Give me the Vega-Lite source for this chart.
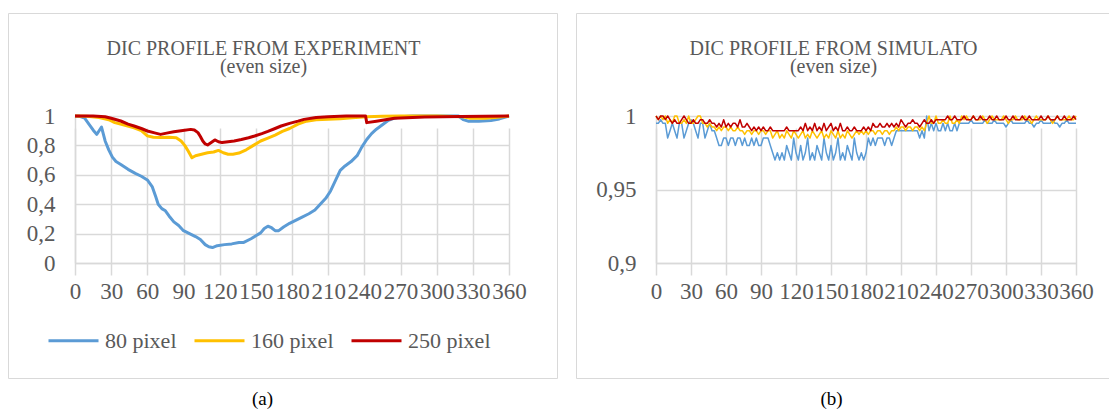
{
"$schema": "https://vega.github.io/schema/vega-lite/v6.json",
"background": "white",
"padding": {"left": 7, "top": 12, "right": 0, "bottom": 0},
"spacing": 17,
"config": {
  "font": "Times New Roman, Liberation Serif, serif",
  "view": {"stroke": "#d9d9d9", "strokeWidth": 1},
  "axis": {"domainColor": "#d9d9d9", "gridColor": "#d9d9d9", "gridWidth": 1.5, "domainWidth": 1.5, "ticks": false, "labelColor": "#595959", "labelFontSize": 23, "labelFont": "Times New Roman, Liberation Serif, serif"},
  "line": {"strokeJoin": "round"}
},
"datasets": {
  "a80": [{"x":0,"y":1.0},{"x":4,"y":0.998},{"x":8,"y":0.985},{"x":12,"y":0.94},{"x":15,"y":0.905},{"x":18,"y":0.875},{"x":20,"y":0.9},{"x":22,"y":0.925},{"x":25,"y":0.83},{"x":28,"y":0.77},{"x":31,"y":0.72},{"x":34,"y":0.69},{"x":38,"y":0.67},{"x":44,"y":0.637},{"x":50,"y":0.61},{"x":55,"y":0.59},{"x":60,"y":0.565},{"x":64,"y":0.52},{"x":67,"y":0.45},{"x":69,"y":0.4},{"x":72,"y":0.37},{"x":75,"y":0.355},{"x":78,"y":0.32},{"x":82,"y":0.28},{"x":86,"y":0.255},{"x":90,"y":0.22},{"x":95,"y":0.2},{"x":100,"y":0.18},{"x":104,"y":0.16},{"x":108,"y":0.125},{"x":111,"y":0.11},{"x":114,"y":0.105},{"x":118,"y":0.118},{"x":124,"y":0.125},{"x":130,"y":0.13},{"x":136,"y":0.14},{"x":140,"y":0.14},{"x":146,"y":0.165},{"x":150,"y":0.185},{"x":154,"y":0.205},{"x":157,"y":0.235},{"x":160,"y":0.25},{"x":163,"y":0.24},{"x":166,"y":0.22},{"x":169,"y":0.22},{"x":173,"y":0.245},{"x":178,"y":0.27},{"x":183,"y":0.29},{"x":188,"y":0.31},{"x":194,"y":0.335},{"x":199,"y":0.36},{"x":204,"y":0.405},{"x":208,"y":0.44},{"x":212,"y":0.49},{"x":216,"y":0.56},{"x":220,"y":0.63},{"x":224,"y":0.66},{"x":229,"y":0.69},{"x":234,"y":0.73},{"x":238,"y":0.79},{"x":242,"y":0.84},{"x":246,"y":0.88},{"x":250,"y":0.91},{"x":255,"y":0.94},{"x":260,"y":0.97},{"x":265,"y":0.985},{"x":270,"y":0.995},{"x":280,"y":1.0},{"x":300,"y":1.0},{"x":318,"y":1.0},{"x":322,"y":0.975},{"x":326,"y":0.965},{"x":335,"y":0.965},{"x":345,"y":0.97},{"x":352,"y":0.98},{"x":360,"y":1.0}],
  "a160": [{"x":0,"y":1.0},{"x":10,"y":0.998},{"x":20,"y":0.99},{"x":28,"y":0.975},{"x":33,"y":0.955},{"x":40,"y":0.94},{"x":49,"y":0.92},{"x":55,"y":0.9},{"x":60,"y":0.865},{"x":65,"y":0.855},{"x":71,"y":0.853},{"x":78,"y":0.855},{"x":84,"y":0.852},{"x":88,"y":0.83},{"x":91,"y":0.8},{"x":94,"y":0.76},{"x":97,"y":0.716},{"x":100,"y":0.73},{"x":105,"y":0.74},{"x":110,"y":0.75},{"x":115,"y":0.755},{"x":119,"y":0.766},{"x":123,"y":0.75},{"x":127,"y":0.74},{"x":131,"y":0.74},{"x":136,"y":0.748},{"x":142,"y":0.77},{"x":148,"y":0.8},{"x":154,"y":0.83},{"x":160,"y":0.85},{"x":166,"y":0.87},{"x":172,"y":0.895},{"x":178,"y":0.915},{"x":185,"y":0.945},{"x":192,"y":0.965},{"x":200,"y":0.975},{"x":210,"y":0.978},{"x":220,"y":0.982},{"x":230,"y":0.988},{"x":242,"y":0.995},{"x":255,"y":0.998},{"x":270,"y":1.0},{"x":300,"y":1.0},{"x":322,"y":0.995},{"x":328,"y":0.985},{"x":340,"y":0.985},{"x":348,"y":0.99},{"x":360,"y":1.0}],
  "a250": [{"x":0,"y":1.0},{"x":15,"y":1.0},{"x":25,"y":0.995},{"x":30,"y":0.985},{"x":38,"y":0.966},{"x":44,"y":0.945},{"x":49,"y":0.932},{"x":55,"y":0.915},{"x":60,"y":0.898},{"x":66,"y":0.885},{"x":71,"y":0.875},{"x":77,"y":0.885},{"x":82,"y":0.893},{"x":88,"y":0.9},{"x":96,"y":0.909},{"x":99,"y":0.905},{"x":102,"y":0.887},{"x":104,"y":0.86},{"x":106,"y":0.83},{"x":108,"y":0.81},{"x":110,"y":0.803},{"x":113,"y":0.82},{"x":116,"y":0.837},{"x":119,"y":0.825},{"x":122,"y":0.819},{"x":127,"y":0.825},{"x":132,"y":0.83},{"x":138,"y":0.84},{"x":144,"y":0.852},{"x":149,"y":0.864},{"x":155,"y":0.88},{"x":160,"y":0.895},{"x":166,"y":0.915},{"x":171,"y":0.932},{"x":178,"y":0.95},{"x":185,"y":0.965},{"x":190,"y":0.977},{"x":200,"y":0.99},{"x":210,"y":0.995},{"x":225,"y":1.0},{"x":241,"y":1.0},{"x":242,"y":0.955},{"x":250,"y":0.965},{"x":265,"y":0.984},{"x":290,"y":0.993},{"x":320,"y":0.996},{"x":360,"y":1.0}],
  "b80": [{"x":0,"y":0.995},{"x":2,"y":0.995},{"x":4,"y":0.9975},{"x":6,"y":0.995},{"x":8,"y":0.995},{"x":10,"y":0.985},{"x":12,"y":0.99},{"x":14,"y":0.995},{"x":16,"y":0.99},{"x":18,"y":0.985},{"x":20,"y":0.995},{"x":22,"y":0.995},{"x":24,"y":0.985},{"x":26,"y":0.99},{"x":28,"y":0.995},{"x":30,"y":0.9975},{"x":32,"y":0.995},{"x":34,"y":0.99},{"x":36,"y":0.985},{"x":38,"y":0.995},{"x":40,"y":0.995},{"x":42,"y":0.985},{"x":44,"y":0.99},{"x":46,"y":0.995},{"x":48,"y":0.99},{"x":50,"y":0.99},{"x":52,"y":0.985},{"x":54,"y":0.98},{"x":56,"y":0.98},{"x":58,"y":0.985},{"x":60,"y":0.985},{"x":62,"y":0.98},{"x":64,"y":0.985},{"x":66,"y":0.985},{"x":68,"y":0.98},{"x":70,"y":0.985},{"x":72,"y":0.985},{"x":74,"y":0.98},{"x":76,"y":0.985},{"x":78,"y":0.98},{"x":80,"y":0.98},{"x":82,"y":0.985},{"x":84,"y":0.98},{"x":86,"y":0.985},{"x":88,"y":0.98},{"x":90,"y":0.98},{"x":92,"y":0.985},{"x":94,"y":0.985},{"x":96,"y":0.985},{"x":98,"y":0.98},{"x":100,"y":0.975},{"x":102,"y":0.97},{"x":104,"y":0.975},{"x":106,"y":0.97},{"x":108,"y":0.975},{"x":110,"y":0.97},{"x":112,"y":0.98},{"x":114,"y":0.975},{"x":116,"y":0.97},{"x":118,"y":0.985},{"x":120,"y":0.975},{"x":122,"y":0.97},{"x":124,"y":0.98},{"x":126,"y":0.97},{"x":128,"y":0.975},{"x":130,"y":0.985},{"x":132,"y":0.97},{"x":134,"y":0.975},{"x":136,"y":0.97},{"x":138,"y":0.98},{"x":140,"y":0.975},{"x":142,"y":0.97},{"x":144,"y":0.985},{"x":146,"y":0.975},{"x":148,"y":0.97},{"x":150,"y":0.98},{"x":152,"y":0.97},{"x":154,"y":0.975},{"x":156,"y":0.985},{"x":158,"y":0.97},{"x":160,"y":0.975},{"x":162,"y":0.97},{"x":164,"y":0.98},{"x":166,"y":0.975},{"x":168,"y":0.97},{"x":170,"y":0.985},{"x":172,"y":0.975},{"x":174,"y":0.97},{"x":176,"y":0.975},{"x":178,"y":0.97},{"x":180,"y":0.975},{"x":182,"y":0.985},{"x":184,"y":0.98},{"x":186,"y":0.985},{"x":188,"y":0.98},{"x":190,"y":0.985},{"x":192,"y":0.985},{"x":194,"y":0.985},{"x":196,"y":0.98},{"x":198,"y":0.985},{"x":200,"y":0.985},{"x":202,"y":0.98},{"x":204,"y":0.985},{"x":206,"y":0.99},{"x":208,"y":0.99},{"x":210,"y":0.99},{"x":212,"y":0.99},{"x":214,"y":0.99},{"x":216,"y":0.99},{"x":218,"y":0.99},{"x":220,"y":0.99},{"x":222,"y":0.99},{"x":224,"y":0.99},{"x":226,"y":0.985},{"x":228,"y":0.99},{"x":230,"y":0.985},{"x":232,"y":1.0},{"x":234,"y":0.99},{"x":236,"y":0.995},{"x":238,"y":0.99},{"x":240,"y":0.995},{"x":242,"y":0.99},{"x":244,"y":0.99},{"x":246,"y":0.995},{"x":248,"y":0.99},{"x":250,"y":0.995},{"x":252,"y":0.99},{"x":254,"y":0.99},{"x":256,"y":0.995},{"x":258,"y":0.99},{"x":260,"y":0.995},{"x":262,"y":0.995},{"x":264,"y":0.995},{"x":266,"y":0.995},{"x":268,"y":0.995},{"x":270,"y":0.9975},{"x":272,"y":0.995},{"x":274,"y":0.995},{"x":276,"y":0.995},{"x":278,"y":0.995},{"x":280,"y":0.995},{"x":282,"y":0.9975},{"x":284,"y":0.995},{"x":286,"y":0.995},{"x":288,"y":0.995},{"x":290,"y":0.9975},{"x":292,"y":0.995},{"x":294,"y":0.995},{"x":296,"y":0.995},{"x":298,"y":0.995},{"x":300,"y":0.9925},{"x":302,"y":0.995},{"x":304,"y":0.9975},{"x":306,"y":0.995},{"x":308,"y":0.995},{"x":310,"y":0.995},{"x":312,"y":0.995},{"x":314,"y":0.995},{"x":316,"y":0.995},{"x":318,"y":0.9975},{"x":320,"y":0.995},{"x":322,"y":0.995},{"x":324,"y":0.9925},{"x":326,"y":0.995},{"x":328,"y":0.995},{"x":330,"y":0.9975},{"x":332,"y":0.995},{"x":334,"y":0.995},{"x":336,"y":0.995},{"x":338,"y":0.995},{"x":340,"y":0.9975},{"x":342,"y":0.995},{"x":344,"y":0.995},{"x":346,"y":0.9925},{"x":348,"y":0.995},{"x":350,"y":0.995},{"x":352,"y":0.9975},{"x":354,"y":0.995},{"x":356,"y":0.995},{"x":358,"y":0.995},{"x":360,"y":0.995}],
  "b160": [{"x":0,"y":1.0},{"x":2,"y":0.9975},{"x":4,"y":1.0},{"x":6,"y":0.9975},{"x":8,"y":1.0},{"x":10,"y":0.995},{"x":12,"y":0.9975},{"x":14,"y":0.995},{"x":16,"y":1.0},{"x":18,"y":1.0},{"x":20,"y":0.995},{"x":22,"y":0.995},{"x":24,"y":0.9975},{"x":26,"y":0.995},{"x":28,"y":1.0},{"x":30,"y":0.995},{"x":32,"y":0.995},{"x":34,"y":0.9975},{"x":36,"y":1.0},{"x":38,"y":1.0},{"x":40,"y":0.995},{"x":42,"y":0.995},{"x":44,"y":0.9925},{"x":46,"y":0.995},{"x":48,"y":0.9925},{"x":50,"y":0.9925},{"x":52,"y":0.99},{"x":54,"y":0.9925},{"x":56,"y":0.99},{"x":58,"y":0.9925},{"x":60,"y":0.9925},{"x":62,"y":0.99},{"x":64,"y":0.9925},{"x":66,"y":0.99},{"x":68,"y":0.99},{"x":70,"y":0.9925},{"x":72,"y":0.99},{"x":74,"y":0.99},{"x":76,"y":0.9875},{"x":78,"y":0.99},{"x":80,"y":0.99},{"x":82,"y":0.9875},{"x":84,"y":0.99},{"x":86,"y":0.99},{"x":88,"y":0.9875},{"x":90,"y":0.99},{"x":92,"y":0.99},{"x":94,"y":0.9875},{"x":96,"y":0.99},{"x":98,"y":0.99},{"x":100,"y":0.985},{"x":102,"y":0.9875},{"x":104,"y":0.99},{"x":106,"y":0.985},{"x":108,"y":0.9875},{"x":110,"y":0.985},{"x":112,"y":0.99},{"x":114,"y":0.9875},{"x":116,"y":0.985},{"x":118,"y":0.99},{"x":120,"y":0.9875},{"x":122,"y":0.985},{"x":124,"y":0.9875},{"x":126,"y":0.99},{"x":128,"y":0.985},{"x":130,"y":0.9875},{"x":132,"y":0.985},{"x":134,"y":0.99},{"x":136,"y":0.9875},{"x":138,"y":0.985},{"x":140,"y":0.9875},{"x":142,"y":0.99},{"x":144,"y":0.985},{"x":146,"y":0.9875},{"x":148,"y":0.985},{"x":150,"y":0.99},{"x":152,"y":0.9875},{"x":154,"y":0.985},{"x":156,"y":0.99},{"x":158,"y":0.985},{"x":160,"y":0.9875},{"x":162,"y":0.985},{"x":164,"y":0.99},{"x":166,"y":0.9875},{"x":168,"y":0.985},{"x":170,"y":0.9875},{"x":172,"y":0.99},{"x":174,"y":0.9875},{"x":176,"y":0.99},{"x":178,"y":0.9875},{"x":180,"y":0.99},{"x":182,"y":0.9875},{"x":184,"y":0.99},{"x":186,"y":0.99},{"x":188,"y":0.9875},{"x":190,"y":0.99},{"x":192,"y":0.99},{"x":194,"y":0.9875},{"x":196,"y":0.99},{"x":198,"y":0.99},{"x":200,"y":0.9875},{"x":202,"y":0.99},{"x":204,"y":0.99},{"x":206,"y":0.9925},{"x":208,"y":0.99},{"x":210,"y":0.9925},{"x":212,"y":0.9925},{"x":214,"y":0.99},{"x":216,"y":0.9925},{"x":218,"y":0.9925},{"x":220,"y":0.99},{"x":222,"y":0.9925},{"x":224,"y":0.9925},{"x":226,"y":0.99},{"x":228,"y":0.9925},{"x":230,"y":0.99},{"x":232,"y":0.995},{"x":234,"y":1.0},{"x":236,"y":0.995},{"x":238,"y":0.995},{"x":240,"y":1.0},{"x":242,"y":0.995},{"x":244,"y":0.995},{"x":246,"y":0.9975},{"x":248,"y":0.995},{"x":250,"y":0.995},{"x":252,"y":1.0},{"x":254,"y":0.995},{"x":256,"y":0.995},{"x":258,"y":0.9975},{"x":260,"y":0.995},{"x":262,"y":1.0},{"x":264,"y":0.9975},{"x":266,"y":1.0},{"x":268,"y":0.9975},{"x":270,"y":0.9975},{"x":272,"y":1.0},{"x":274,"y":0.9975},{"x":276,"y":0.9975},{"x":278,"y":0.9975},{"x":280,"y":1.0},{"x":282,"y":0.9975},{"x":284,"y":0.995},{"x":286,"y":0.9975},{"x":288,"y":1.0},{"x":290,"y":0.9975},{"x":292,"y":0.9975},{"x":294,"y":0.9975},{"x":296,"y":0.9975},{"x":298,"y":1.0},{"x":300,"y":0.9975},{"x":302,"y":0.995},{"x":304,"y":0.9975},{"x":306,"y":0.9975},{"x":308,"y":1.0},{"x":310,"y":0.9975},{"x":312,"y":0.9975},{"x":314,"y":0.9975},{"x":316,"y":1.0},{"x":318,"y":0.9975},{"x":320,"y":0.9975},{"x":322,"y":0.995},{"x":324,"y":0.9975},{"x":326,"y":1.0},{"x":328,"y":0.9975},{"x":330,"y":0.9975},{"x":332,"y":0.9975},{"x":334,"y":0.9975},{"x":336,"y":1.0},{"x":338,"y":0.9975},{"x":340,"y":0.995},{"x":342,"y":0.9975},{"x":344,"y":1.0},{"x":346,"y":0.9975},{"x":348,"y":0.9975},{"x":350,"y":0.9975},{"x":352,"y":0.9975},{"x":354,"y":1.0},{"x":356,"y":0.9975},{"x":358,"y":0.9975},{"x":360,"y":1.0}],
  "b250": [{"x":0,"y":1.0},{"x":2,"y":0.9975},{"x":4,"y":1.0},{"x":6,"y":1.0},{"x":8,"y":0.9975},{"x":10,"y":1.0},{"x":12,"y":0.9975},{"x":14,"y":0.995},{"x":16,"y":0.9975},{"x":18,"y":0.995},{"x":20,"y":0.995},{"x":22,"y":0.9975},{"x":24,"y":1.0},{"x":26,"y":0.9975},{"x":28,"y":0.995},{"x":30,"y":0.995},{"x":32,"y":0.9975},{"x":34,"y":0.995},{"x":36,"y":0.995},{"x":38,"y":0.9975},{"x":40,"y":0.9975},{"x":42,"y":0.995},{"x":44,"y":0.995},{"x":46,"y":0.9975},{"x":48,"y":0.995},{"x":50,"y":0.995},{"x":52,"y":0.9925},{"x":54,"y":0.995},{"x":56,"y":0.9925},{"x":58,"y":0.9975},{"x":60,"y":0.9925},{"x":62,"y":0.995},{"x":64,"y":0.9925},{"x":66,"y":0.995},{"x":68,"y":0.995},{"x":70,"y":0.9925},{"x":72,"y":0.9975},{"x":74,"y":0.9925},{"x":76,"y":0.9925},{"x":78,"y":0.995},{"x":80,"y":0.9925},{"x":82,"y":0.99},{"x":84,"y":0.9925},{"x":86,"y":0.99},{"x":88,"y":0.9925},{"x":90,"y":0.99},{"x":92,"y":0.9925},{"x":94,"y":0.99},{"x":96,"y":0.99},{"x":98,"y":0.9925},{"x":100,"y":0.99},{"x":102,"y":0.99},{"x":104,"y":0.99},{"x":106,"y":0.99},{"x":108,"y":0.99},{"x":110,"y":0.99},{"x":112,"y":0.9925},{"x":114,"y":0.99},{"x":116,"y":0.99},{"x":118,"y":0.99},{"x":120,"y":0.99},{"x":122,"y":0.99},{"x":124,"y":0.9925},{"x":126,"y":0.99},{"x":128,"y":0.995},{"x":130,"y":0.99},{"x":132,"y":0.9925},{"x":134,"y":0.99},{"x":136,"y":0.995},{"x":138,"y":0.99},{"x":140,"y":0.9925},{"x":142,"y":0.99},{"x":144,"y":0.995},{"x":146,"y":0.99},{"x":148,"y":0.9925},{"x":150,"y":0.995},{"x":152,"y":0.99},{"x":154,"y":0.9925},{"x":156,"y":0.99},{"x":158,"y":0.995},{"x":160,"y":0.99},{"x":162,"y":0.99},{"x":164,"y":0.9925},{"x":166,"y":0.99},{"x":168,"y":0.99},{"x":170,"y":0.9925},{"x":172,"y":0.99},{"x":174,"y":0.99},{"x":176,"y":0.99},{"x":178,"y":0.9925},{"x":180,"y":0.99},{"x":182,"y":0.9925},{"x":184,"y":0.99},{"x":186,"y":0.995},{"x":188,"y":0.9925},{"x":190,"y":0.9925},{"x":192,"y":0.995},{"x":194,"y":0.9925},{"x":196,"y":0.9925},{"x":198,"y":0.995},{"x":200,"y":0.9925},{"x":202,"y":0.995},{"x":204,"y":0.9925},{"x":206,"y":0.995},{"x":208,"y":0.9925},{"x":210,"y":0.9975},{"x":212,"y":0.995},{"x":214,"y":0.9925},{"x":216,"y":0.995},{"x":218,"y":0.995},{"x":220,"y":0.9975},{"x":222,"y":0.995},{"x":224,"y":0.995},{"x":226,"y":0.9925},{"x":228,"y":0.995},{"x":230,"y":0.9975},{"x":232,"y":0.995},{"x":234,"y":0.995},{"x":236,"y":0.9975},{"x":238,"y":0.995},{"x":240,"y":0.9975},{"x":242,"y":0.9975},{"x":244,"y":0.9975},{"x":246,"y":0.9975},{"x":248,"y":0.9975},{"x":250,"y":1.0},{"x":252,"y":0.9975},{"x":254,"y":0.9975},{"x":256,"y":1.0},{"x":258,"y":0.9975},{"x":260,"y":0.9975},{"x":262,"y":0.9975},{"x":264,"y":1.0},{"x":266,"y":0.9975},{"x":268,"y":0.9975},{"x":270,"y":0.9975},{"x":272,"y":1.0},{"x":274,"y":0.9975},{"x":276,"y":0.9975},{"x":278,"y":1.0},{"x":280,"y":0.9975},{"x":282,"y":0.9975},{"x":284,"y":0.9975},{"x":286,"y":1.0},{"x":288,"y":0.9975},{"x":290,"y":0.9975},{"x":292,"y":1.0},{"x":294,"y":0.9975},{"x":296,"y":0.9975},{"x":298,"y":0.9975},{"x":300,"y":1.0},{"x":302,"y":0.9975},{"x":304,"y":0.9975},{"x":306,"y":1.0},{"x":308,"y":0.9975},{"x":310,"y":0.9975},{"x":312,"y":0.9975},{"x":314,"y":1.0},{"x":316,"y":0.9975},{"x":318,"y":0.9975},{"x":320,"y":1.0},{"x":322,"y":0.9975},{"x":324,"y":0.9975},{"x":326,"y":0.9975},{"x":328,"y":0.9975},{"x":330,"y":1.0},{"x":332,"y":0.9975},{"x":334,"y":0.9975},{"x":336,"y":1.0},{"x":338,"y":0.9975},{"x":340,"y":0.9975},{"x":342,"y":0.9975},{"x":344,"y":1.0},{"x":346,"y":0.9975},{"x":348,"y":0.9975},{"x":350,"y":1.0},{"x":352,"y":0.9975},{"x":354,"y":0.9975},{"x":356,"y":0.9975},{"x":358,"y":1.0},{"x":360,"y":0.9975}]
},
"hconcat": [
  {
    "title": {"text": "(a)", "orient": "bottom", "anchor": "middle", "offset": 11, "dx": -20, "fontSize": 19, "color": "black", "fontWeight": "normal", "font": "Times New Roman, Liberation Serif, serif"},
    "vconcat": [
      {
        "width": 549, "height": 365,
        "title": {"text": "DIC PROFILE FROM EXPERIMENT", "subtitle": "(even size)", "anchor": "middle", "offset": -64, "dx": -19, "fontSize": 20, "subtitleFontSize": 20, "color": "#595959", "subtitleColor": "#595959", "font": "Times New Roman, Liberation Serif, serif", "subtitleFont": "Times New Roman, Liberation Serif, serif", "fontWeight": "normal", "subtitlePadding": -2},
        "encoding": {
          "x": {"field": "x", "type": "quantitative", "scale": {"domain": [0, 360], "range": [67, 501], "nice": false, "zero": false}, "axis": {"orient": "bottom", "offset": -115, "values": [0,30,60,90,120,150,180,210,240,270,300,330,360], "grid": true, "labelPadding": 17, "labelOverlap": false, "labelFlush": false, "labelBound": false, "title": null}},
          "y": {"field": "y", "type": "quantitative", "scale": {"domain": [0, 1], "range": [250, 103], "nice": false, "zero": false}, "axis": {"orient": "left", "offset": -67, "values": [0,0.2,0.4,0.6,0.8,1], "grid": true, "labelPadding": 20, "labelExpr": "replace(format(datum.value,'~g'),'.',',')", "title": null}}
        },
        "layer": [
          {"data": {"name": "a80"}, "mark": {"type": "line", "strokeWidth": 3}, "encoding": {"color": {"datum": "80 pixel", "type": "nominal", "scale": {"domain": ["80 pixel","160 pixel","250 pixel"], "range": ["#5b9bd5","#ffc000","#c00000"]}, "legend": {"orient": "none", "legendX": 39, "legendY": 301, "direction": "horizontal", "title": null, "symbolType": "stroke", "symbolSize": 2500, "symbolStrokeWidth": 3, "labelFontSize": 22, "labelColor": "#595959", "labelFont": "Times New Roman, Liberation Serif, serif", "labelOffset": 5, "columnPadding": 16, "labelLimit": 300}}}},
          {"data": {"name": "a160"}, "mark": {"type": "line", "strokeWidth": 3}, "encoding": {"color": {"datum": "160 pixel", "type": "nominal", "scale": {"domain": ["80 pixel","160 pixel","250 pixel"], "range": ["#5b9bd5","#ffc000","#c00000"]}, "legend": {"orient": "none", "legendX": 39, "legendY": 301, "direction": "horizontal", "title": null, "symbolType": "stroke", "symbolSize": 2500, "symbolStrokeWidth": 3, "labelFontSize": 22, "labelColor": "#595959", "labelFont": "Times New Roman, Liberation Serif, serif", "labelOffset": 5, "columnPadding": 16, "labelLimit": 300}}}},
          {"data": {"name": "a250"}, "mark": {"type": "line", "strokeWidth": 3}, "encoding": {"color": {"datum": "250 pixel", "type": "nominal", "scale": {"domain": ["80 pixel","160 pixel","250 pixel"], "range": ["#5b9bd5","#ffc000","#c00000"]}, "legend": {"orient": "none", "legendX": 39, "legendY": 301, "direction": "horizontal", "title": null, "symbolType": "stroke", "symbolSize": 2500, "symbolStrokeWidth": 3, "labelFontSize": 22, "labelColor": "#595959", "labelFont": "Times New Roman, Liberation Serif, serif", "labelOffset": 5, "columnPadding": 16, "labelLimit": 300}}}}
        ]
      }
    ]
  },
  {
    "title": {"text": "(b)", "orient": "bottom", "anchor": "middle", "offset": 11, "dx": -12, "fontSize": 19, "color": "black", "fontWeight": "normal", "font": "Times New Roman, Liberation Serif, serif"},
    "vconcat": [
      {
        "width": 535, "height": 365,
        "title": {"text": "DIC PROFILE FROM SIMULATO", "subtitle": "(even size)", "anchor": "middle", "offset": -64, "dx": -10, "fontSize": 20, "subtitleFontSize": 20, "color": "#595959", "subtitleColor": "#595959", "font": "Times New Roman, Liberation Serif, serif", "subtitleFont": "Times New Roman, Liberation Serif, serif", "fontWeight": "normal", "subtitlePadding": -2},
        "encoding": {
          "x": {"field": "x", "type": "quantitative", "scale": {"domain": [0, 360], "range": [80, 500], "nice": false, "zero": false}, "axis": {"orient": "bottom", "offset": -115, "values": [0,30,60,90,120,150,180,210,240,270,300,330,360], "grid": true, "labelPadding": 17, "labelOverlap": false, "labelFlush": false, "labelBound": false, "title": null}},
          "y": {"field": "y", "type": "quantitative", "scale": {"domain": [0.9, 1], "range": [250, 103], "nice": false, "zero": false}, "axis": {"orient": "left", "offset": -80, "values": [0.9,0.95,1], "grid": true, "labelPadding": 20, "labelExpr": "replace(format(datum.value,'~g'),'.',',')", "title": null}}
        },
        "layer": [
          {"data": {"name": "b80"}, "mark": {"type": "line", "strokeWidth": 1.5}, "encoding": {"color": {"datum": "80 pixel", "type": "nominal", "scale": {"domain": ["80 pixel","160 pixel","250 pixel"], "range": ["#5b9bd5","#ffc000","#c00000"]}, "legend": {"orient": "none", "legendX": 41, "legendY": 299, "direction": "horizontal", "title": null, "symbolType": "stroke", "symbolSize": 2500, "symbolStrokeWidth": 2, "labelFontSize": 22, "labelColor": "#595959", "labelFont": "Times New Roman, Liberation Serif, serif", "labelOffset": 5, "columnPadding": 17, "labelLimit": 300}}}},
          {"data": {"name": "b160"}, "mark": {"type": "line", "strokeWidth": 1.5}, "encoding": {"color": {"datum": "160 pixel", "type": "nominal", "scale": {"domain": ["80 pixel","160 pixel","250 pixel"], "range": ["#5b9bd5","#ffc000","#c00000"]}, "legend": {"orient": "none", "legendX": 41, "legendY": 299, "direction": "horizontal", "title": null, "symbolType": "stroke", "symbolSize": 2500, "symbolStrokeWidth": 2, "labelFontSize": 22, "labelColor": "#595959", "labelFont": "Times New Roman, Liberation Serif, serif", "labelOffset": 5, "columnPadding": 17, "labelLimit": 300}}}},
          {"data": {"name": "b250"}, "mark": {"type": "line", "strokeWidth": 1.5}, "encoding": {"color": {"datum": "250 pixel", "type": "nominal", "scale": {"domain": ["80 pixel","160 pixel","250 pixel"], "range": ["#5b9bd5","#ffc000","#c00000"]}, "legend": {"orient": "none", "legendX": 41, "legendY": 299, "direction": "horizontal", "title": null, "symbolType": "stroke", "symbolSize": 2500, "symbolStrokeWidth": 2, "labelFontSize": 22, "labelColor": "#595959", "labelFont": "Times New Roman, Liberation Serif, serif", "labelOffset": 5, "columnPadding": 17, "labelLimit": 300}}}}
        ]
      }
    ]
  }
]
}
